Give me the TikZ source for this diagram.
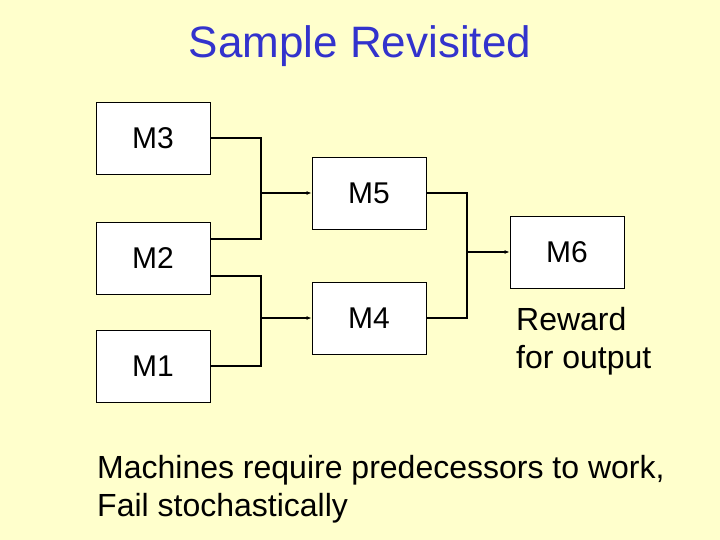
\documentclass[tikz,border=0pt]{standalone}
\usepackage{fontspec}
\setmainfont{Liberation Sans}
\usetikzlibrary{arrows.meta,calc}
\definecolor{slidebg}{RGB}{255,255,204}
\definecolor{titleblue}{RGB}{51,51,204}
\begin{document}
\begin{tikzpicture}[x=1pt, y=-1pt,
        machine/.style={rectangle, draw, fill=white, line width=0.8pt,
            minimum width=114pt, minimum height=72pt, inner sep=0pt,
            font=\fontsize{30}{36}\selectfont},
        wire/.style={line width=2pt},
        feed/.style={wire, -{Latex[length=5pt,width=4pt]}}]
        % Slide
        \fill[slidebg] (0,0) rectangle (720,540);
        \useasboundingbox (0,0) rectangle (720,540);
        \node (title) at (360,46) [text=titleblue, font=\fontsize{44}{50}\selectfont] {Sample Revisited};

        % Machines
        \node[machine] (m3) at (153,138) {M3};
        \node[machine] (m2) at (153,258) {M2};
        \node[machine] (m1) at (153,366) {M1};
        \node[machine] (m5) at (369,193) {M5};
        \node[machine] (m4) at (369,318) {M4};
        \node[machine] (m6) at (567,252) {M6};

        % Junctions
        \coordinate (j5) at (261,193);
        \coordinate (j4) at (261,318);
        \coordinate (j6) at (467,252);

        % Wires
        \draw[wire] (m3.east) -| (j5) |- ($(m2.east)+(0,-19)$);
        \draw[wire] ($(m2.east)+(0,18)$) -| (j4) |- (m1.east);
        \draw[wire] (m5.east) -| (j6) |- (m4.east);
        \draw[feed] (j5) -- (m5.west);
        \draw[feed] (j4) -- (m4.west);
        \draw[feed] (j6) -- (m6.west);

        % Notes
        \node (reward) at (516,341) [anchor=west, align=left, inner sep=0pt,
            font=\fontsize{32}{38}\selectfont] {Reward\\for output};
        \node (note) at (97,489) [anchor=west, align=left, inner sep=0pt,
            font=\fontsize{32}{38}\selectfont] {Machines require predecessors to work,\\Fail stochastically};
    \end{tikzpicture}
\end{document}
